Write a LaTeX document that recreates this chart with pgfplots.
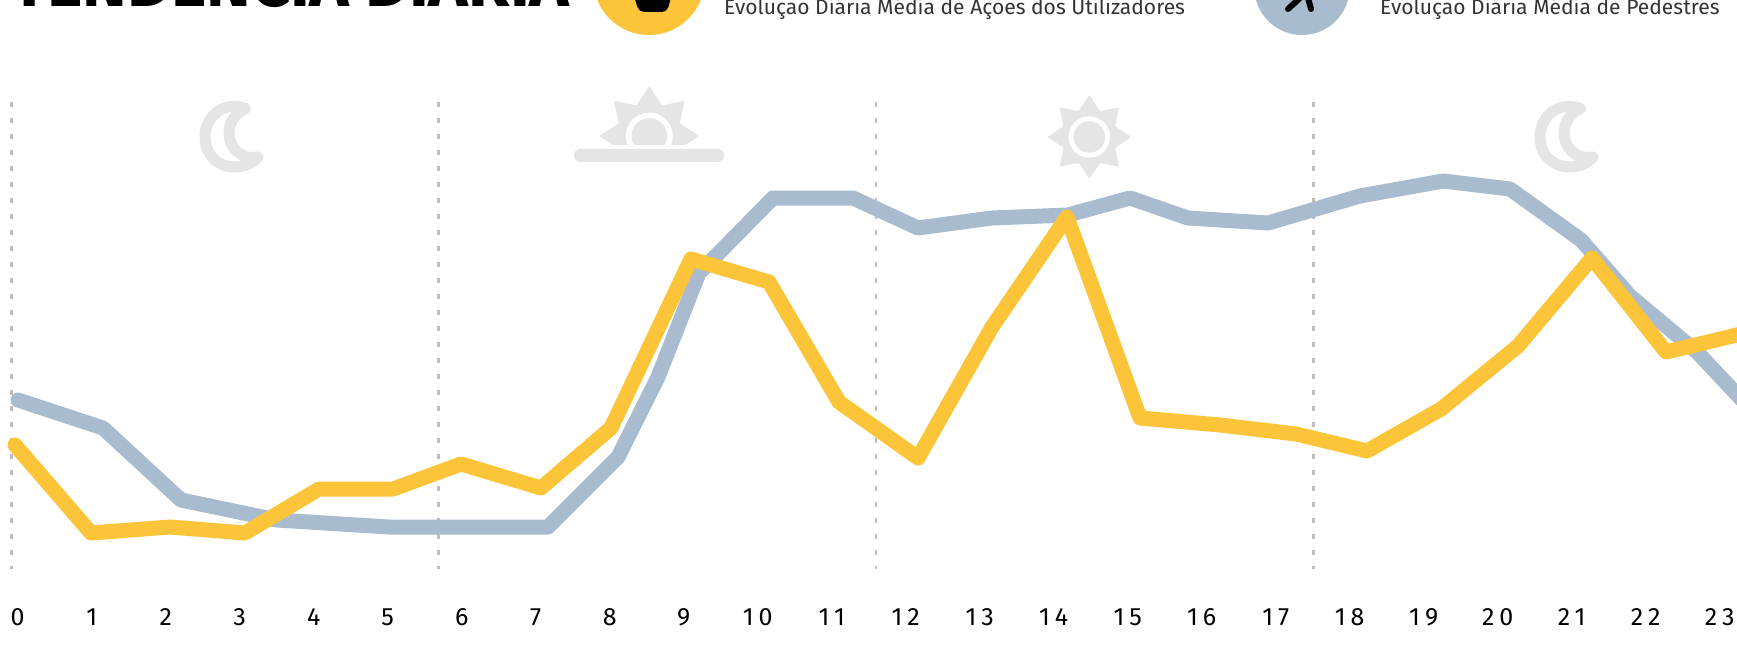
\documentclass[border=0pt]{standalone}
\usepackage{pgfplots}
\pgfplotsset{compat=1.18}
\usepackage{fontspec}
\setmainfont{Fira Sans}
\newfontfamily\tickfont[LetterSpace=20,Numbers=Lining]{Fira Sans}
\definecolor{ylw}{HTML}{FCC438}
\definecolor{blu}{HTML}{A9BBCF}
\definecolor{icn}{HTML}{E5E5E5}
\definecolor{dsh}{HTML}{BDBDBD}
\definecolor{txt}{HTML}{333333}
\newcommand{\moonpath}{(245.5,108.5) .. controls (222,100) and (205,118) .. (205,137) .. controls (205,155) and (218,167) .. (235,167) .. controls (245,167) and (253,163) .. (258,157) .. controls (240,160) and (229,147) .. (229,133) .. controls (229,122) and (236,113) .. (245.5,108.5) -- cycle}
\newcommand{\starpath}[2]{(0:#1pt) -- (22.5:#2pt) -- (45:#1pt) -- (67.5:#2pt) -- (90:#1pt) -- (112.5:#2pt) -- (135:#1pt) -- (157.5:#2pt) -- (180:#1pt) -- (202.5:#2pt) -- (225:#1pt) -- (247.5:#2pt) -- (270:#1pt) -- (292.5:#2pt) -- (315:#1pt) -- (337.5:#2pt) -- cycle}
\begin{document}
\begin{tikzpicture}
\path[use as bounding box] (0pt,0pt) rectangle (1737pt,656pt);
\clip (0pt,0pt) rectangle (1737pt,656pt);
\begin{axis}[
  at={(0pt,0pt)}, anchor=south west,
  scale only axis, width=1737pt, height=656pt,
  xmin=0, xmax=1737, ymin=0, ymax=656, y dir=reverse,
  axis line style={draw=none}, tick style={draw=none},
  major tick length=0pt,
  ytick=\empty,
  xtick={17.7,91.7,165.7,239.7,313.7,387.7,461.7,535.7,609.7,683.7,757.7,831.7,905.7,979.7,1053.7,1127.7,1201.7,1275.7,1349.7,1423.7,1497.7,1571.7,1645.7,1719.7},
  xticklabels={0,1,2,3,4,5,6,7,8,9,10,11,12,13,14,15,16,17,18,19,20,21,22,23},
  xticklabel pos=lower,
  xticklabel style={anchor=base, yshift=30.5pt, font=\fontsize{25}{28}\selectfont\tickfont, text=black},
]
\addplot[dsh, line width=2.8pt, dash pattern=on 5pt off 11pt] coordinates {(11.6,102) (11.6,569)};
\addplot[dsh, line width=2.8pt, dash pattern=on 5pt off 11pt] coordinates {(438.5,102) (438.5,569)};
\addplot[dsh, line width=2.8pt, dash pattern=on 5pt off 11pt] coordinates {(876,102) (876,569)};
\addplot[dsh, line width=2.8pt, dash pattern=on 5pt off 11pt] coordinates {(1313.5,102) (1313.5,569)};
\addplot[blu, line width=15pt, line join=round, line cap=round] coordinates {
(18,400) (103,428) (181,500) (277,520) (389,527) (548,527) (618,457) (658,377) (699,273) (773,198) (853,198) (918,228) (992,218) (1068,215) (1130,198) (1188,218) (1268,223) (1360,196) (1443,181) (1510,189) (1581,240) (1630,296) (1697,352) (1745,403)};
\addplot[ylw, line width=15pt, line join=round, line cap=round] coordinates {
(15,445) (91,533) (170,527) (245,533) (319,489) (393,489) (461,464) (541,488) (611,428) (691,259) (769,282) (839,402) (918,458) (992,327) (1067,217) (1140,418) (1220,425) (1296,434) (1367,451) (1441,409) (1518,346) (1592,258) (1666,352) (1745,333)};
\end{axis}
\begin{scope}[x=1pt,y=-1pt,shift={(0pt,656pt)}]
  % title and legend
  \node[anchor=base west, inner sep=0pt, font=\fontsize{67.3}{80}\selectfont\bfseries] at (11,7) {TENDÊNCIA DIÁRIA};
  \fill[ylw] (649,-20.7) circle [radius=55.7pt];
  \fill[black, rounded corners=5pt] (632,-10) -- (673,-10) -- (667,12) -- (639,12) -- cycle;
  \fill[blu] (1302,-12.7) circle [radius=47.7pt];
  \draw[black, line width=6pt, line cap=round] (1300,-2) -- (1288,9);
  \draw[black, line width=6pt, line cap=round] (1308,-2) -- (1311,9);
  \node[anchor=base west, inner sep=0pt, text=txt, font=\fontsize{21.05}{26}\selectfont] at (724,15) {Evolução Diária Média de Ações dos Utilizadores};
  \node[anchor=base west, inner sep=0pt, text=txt, font=\fontsize{21.05}{26}\selectfont] at (1380,15) {Evolução Diária Média de Pedestres};
  % moons
  \draw[icn, line width=11pt, line join=round] \moonpath;
  \begin{scope}[shift={(1335,0)}]
    \draw[icn, line width=11pt, line join=round] \moonpath;
  \end{scope}
  % sun
  \begin{scope}[shift={(1089.3,137)}]
    \fill[icn, rounded corners=1pt] \starpath{42}{28};
    \fill[white] (0,0) circle [radius=20.7pt];
    \fill[icn] (0,0) circle [radius=15.7pt];
  \end{scope}
  % sunrise
  \begin{scope}
    \clip (560,80) rectangle (740,145);
    \begin{scope}[shift={(649.3,136)}]
      \fill[icn, rounded corners=1pt] \starpath{50}{33};
      \fill[white] (0,0) circle [radius=23.5pt];
      \fill[icn] (0,0) circle [radius=17.8pt];
    \end{scope}
  \end{scope}
  \fill[icn, rounded corners=6pt] (574,149) rectangle (724,162);
\end{scope}
\end{tikzpicture}
\end{document}
